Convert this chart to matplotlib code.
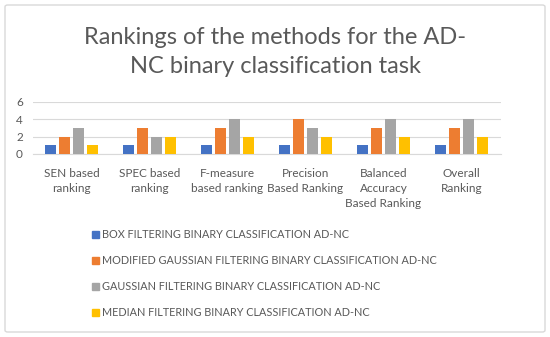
import numpy as np
import matplotlib
matplotlib.use("Agg")
import matplotlib.pyplot as plt
import matplotlib.patches as mpatches

# ── data ────────────────────────────────────────────────────────────────
categories = [
    "SEN based\nranking",
    "SPEC based\nranking",
    "F-measure\nbased ranking",
    "Precision\nBased Ranking",
    "Balanced\nAccuracy\nBased Ranking",
    "Overall\nRanking",
]
series_names = [
    "BOX FILTERING BINARY CLASSIFICATION AD-NC",
    "MODIFIED GAUSSIAN FILTERING BINARY CLASSIFICATION AD-NC",
    "GAUSSIAN FILTERING BINARY CLASSIFICATION AD-NC",
    "MEDIAN FILTERING BINARY CLASSIFICATION AD-NC",
]
box_vals = [1, 1, 1, 1, 1, 1]
mod_gauss_vals = [2, 3, 3, 4, 3, 3]
gauss_vals = [3, 2, 4, 3, 4, 4]
median_vals = [1, 2, 2, 2, 2, 2]
y_ticks = [0, 2, 4, 6]

COLORS = ["#4472C4", "#ED7D31", "#A5A5A5", "#FFC000"]
TEXT = "#595959"

plt.rcParams["font.family"] = ["Lato", "DejaVu Sans"]

fig = plt.figure(figsize=(5.5, 3.37), dpi=100)
fig.patch.set_facecolor("white")

# outer chart border
border = mpatches.FancyBboxPatch(
    (5 / 550, 5 / 337), 540 / 550, 327 / 337,
    boxstyle="round,pad=0,rounding_size=0.005",
    transform=fig.transFigure, facecolor="none",
    edgecolor="#D9D9D9", linewidth=1.0, zorder=-1)
fig.patches.append(border)

ax = fig.add_axes([32.5 / 550, 1 - 154 / 337, 468 / 550, 52 / 337])

x = np.arange(len(categories))
slot = 0.18
width = 0.141
all_vals = [box_vals, mod_gauss_vals, gauss_vals, median_vals]
for i, (vals, color, name) in enumerate(zip(all_vals, COLORS, series_names)):
    offset = (i - 1.5) * slot
    ax.bar(x + offset, vals, width=width, color=color, label=name, zorder=3)

ax.set_xlim(-0.5, len(categories) - 0.5)
ax.set_ylim(0, 6)
ax.set_yticks(y_ticks)
ax.set_yticklabels([str(t) for t in y_ticks], fontsize=8.5, color=TEXT)
ax.set_xticks(x)
ax.set_xticklabels(categories, fontsize=8.5, color=TEXT, linespacing=1.45)
ax.tick_params(axis="both", length=0)
ax.tick_params(axis="x", pad=10)
ax.tick_params(axis="y", pad=7)
ax.grid(axis="y", color="#D9D9D9", linewidth=0.8, zorder=0)
for side in ["top", "right", "left"]:
    ax.spines[side].set_visible(False)
ax.spines["bottom"].set_color("#D9D9D9")
ax.set_facecolor("none")

fig.text(0.5, 1 - 52 / 337,
         "Rankings of the methods for the AD-\nNC binary classification task",
         ha="center", va="center", fontsize=17, color=TEXT, linespacing=1.5)

handles = [mpatches.Patch(color=c, label=n) for c, n in zip(COLORS, series_names)]
fig.legend(handles=handles, loc="upper left",
           bbox_to_anchor=(92 / 550, 1 - 229 / 337),
           frameon=False, fontsize=7.8, labelcolor=TEXT,
           handlelength=0.6, handleheight=0.6, handletextpad=0.35,
           labelspacing=1.4, borderpad=0, borderaxespad=0)

fig.savefig("out.png", dpi=100)
